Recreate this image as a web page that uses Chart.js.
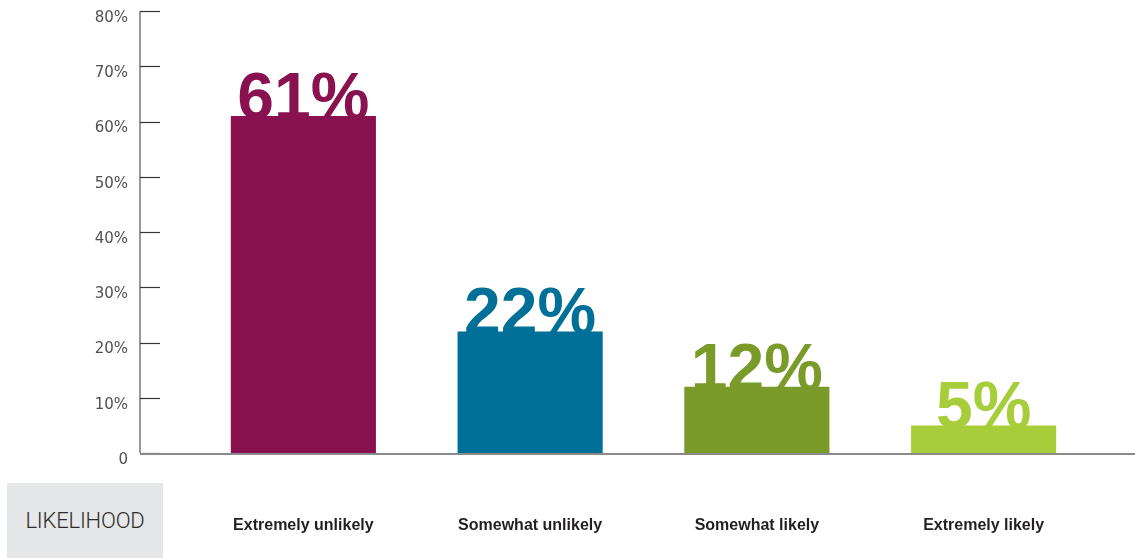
<!DOCTYPE html>
<html>
<head>
<meta charset="utf-8">
<script src="https://cdn.jsdelivr.net/npm/chart.js@4/dist/chart.umd.min.js"></script>
<style>
  html, body { margin: 0; padding: 0; background: #fff; }
  #wrap { position: relative; width: 1135px; height: 558px; }
  #likelihood {
    position: absolute; left: 7px; top: 483px; width: 156px; height: 75px;
    background: #e6e7e8; color: #2b2b2b; font: 300 22px Roboto, "Liberation Sans", sans-serif;
    letter-spacing: -0.2px; display: flex; align-items: center; justify-content: center;
  }
</style>
</head>
<body>
<div id="wrap">
  <canvas id="chart" width="1135" height="558"></canvas>
  <div id="likelihood">LIKELIHOOD</div>
</div>
<script>
const categories = ["Extremely unlikely", "Somewhat unlikely", "Somewhat likely", "Extremely likely"];
const values = [61, 22, 12, 5];
const barColors = ["#8a1150", "#007098", "#7a9b2a", "#a7cd3a"];
const yTicks = [0, 10, 20, 30, 40, 50, 60, 70, 80];

// axis lines, tick marks, baseline and big value labels
const decor = {
  id: "decor",
  afterDatasetsDraw(chart) {
    const { ctx, scales: { y } } = chart;
    const x0 = chart.chartArea.left - 50;
    const yBottom = y.getPixelForValue(0);
    ctx.save();
    ctx.lineWidth = 1.5;
    ctx.strokeStyle = "#777";
    ctx.beginPath();
    ctx.moveTo(x0, y.getPixelForValue(80));
    ctx.lineTo(x0, yBottom);
    ctx.stroke();
    ctx.strokeStyle = "#333";
    ctx.lineWidth = 1.2;
    yTicks.forEach((v) => {
      const py = Math.round(y.getPixelForValue(v)) + 0.5;
      ctx.beginPath();
      ctx.moveTo(x0, py);
      ctx.lineTo(x0 + 20, py);
      ctx.stroke();
    });
    ctx.strokeStyle = "#8a8a8a";
    ctx.lineWidth = 2;
    ctx.beginPath();
    ctx.moveTo(x0, yBottom + 1);
    ctx.lineTo(chart.width, yBottom + 1);
    ctx.stroke();

    const meta = chart.getDatasetMeta(0);
    ctx.font = "bold 66px 'Liberation Sans', Arial, sans-serif";
    ctx.textAlign = "center";
    ctx.textBaseline = "alphabetic";
    meta.data.forEach((bar, i) => {
      ctx.fillStyle = barColors[i];
      ctx.fillText(values[i] + "%", bar.x, bar.y + 3);
    });
    ctx.restore();
  },
};

new Chart(document.getElementById("chart"), {
  type: "bar",
  data: {
    labels: categories,
    datasets: [
      {
        data: values,
        backgroundColor: barColors,
        borderWidth: 0,
        barPercentage: 0.64,
        categoryPercentage: 1,
      },
    ],
  },
  options: {
    responsive: false,
    animation: false,
    layout: { padding: { top: 11, right: 38, left: 0, bottom: 0 } },
    plugins: { legend: { display: false }, tooltip: { enabled: false } },
    scales: {
      x: {
        grid: { display: false, drawTicks: false },
        border: { display: false },
        ticks: {
          padding: 63,
          color: "#231f20",
          font: { family: "'Liberation Sans', Arial, sans-serif", size: 16, weight: "bold" },
        },
        afterFit: (s) => { s.height = 105; },
      },
      y: {
        min: 0,
        max: 80,
        grid: { display: false, drawTicks: false },
        border: { display: false },
        afterBuildTicks: (s) => { s.ticks = yTicks.map((v) => ({ value: v })); },
        ticks: {
          padding: 62,
          labelOffset: 7,
          color: "#505050",
          font: { family: "'DejaVu Sans', sans-serif", size: 15 },
          callback: (v) => (v === 0 ? "0" : v + "%"),
        },
        afterFit: (s) => {
          s.width = 190;
          s.paddingTop = 0;
          s.paddingBottom = 0;
        },
      },
    },
  },
  plugins: [decor],
});
</script>
</body>
</html>
